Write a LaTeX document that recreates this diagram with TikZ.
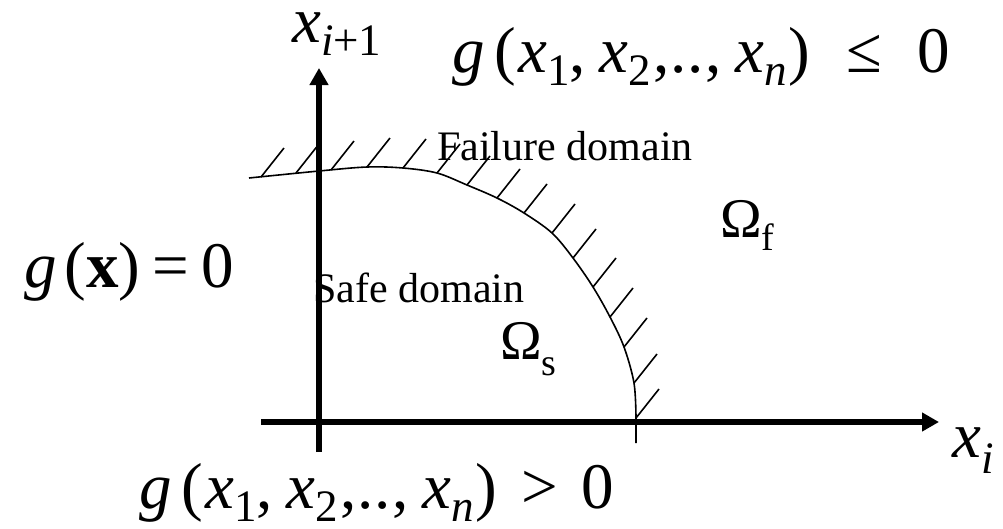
\documentclass[tikz,border=0pt]{standalone}
\usepackage{fontspec}
\setmainfont{Liberation Serif}
\newfontfamily\tms{Liberation Serif}
\usetikzlibrary{arrows.meta}
\newcommand{\mth}{\tms\fontsize{65}{70}\selectfont}
\newcommand{\txt}{\tms\fontsize{42}{46}\selectfont}
\newcommand{\om}{\tms\fontsize{56}{60}\selectfont}
\newcommand{\lsub}[1]{\raisebox{-13pt}{\tms\fontsize{45}{50}\selectfont #1}}
\newcommand{\args}{\textit{g}\hspace{10pt}(\hspace{2pt}\textit{x}\lsub{1},\hspace{14pt}\textit{x}\lsub{2}\hspace{2pt},\hspace{1pt}.\hspace{1pt}.\hspace{1pt},\hspace{14pt}\textit{x}\lsub{\textit{n}}\hspace{2pt})}
\begin{document}
\begin{tikzpicture}[x=1pt,y=-1pt,
  axis/.style={line width=6pt,-{Triangle[length=17pt,width=18pt]}},
  bound/.style={line width=1.6pt},
  hatch/.style={line width=1.6pt},
  lbl/.style={inner sep=0pt,anchor=base west}]
\useasboundingbox (0,0) rectangle (1003,528);
% axes
\coordinate (vb) at (319,452);
\coordinate (vt) at (319,68);
\coordinate (hl) at (261,422);
\coordinate (hr) at (939,422);
\draw[axis] (vb) -- (vt);
\draw[axis] (hl) -- (hr);
% limit state curve
\draw[bound] plot[smooth,tension=0.55] coordinates {(249,178) (319,171) (367,167) (403,168) (437,173) (467,185) (497,198) (524,213) (552,233) (573,258) (593,287) (610,317) (624,347) (634,383) (636,418)} -- (636,443);
% hatches
\foreach \p in {(261,177),(296,173),(331,170),(367,167),(403,168),(437,173),(467,185),(497,198),(524,213),(552,233),(573,258),(593,287),(610,317),(624,347),(634,383),(636,418)}
  \draw[hatch] \p -- ++(23,-29);
% labels
\node[lbl] (xi1) at (292,42) {\mth\textit{x}\lsub{\textit{i}+1}};
\node[lbl] (gle) at (452,72) {\mth\args\hspace{36pt}≤\hspace{36pt}0};
\node[lbl] (gx) at (24,287) {\mth\textit{g}\hspace{8pt}(\textbf{x})\hspace{12pt}=\hspace{12pt}0};
\node[lbl] (fail) at (437,160) {\txt Failure domain};
\node[lbl] (safe) at (313,302) {\txt Safe domain};
\node[lbl] (oms) at (500,359) {\om Ω\raisebox{-16pt}{\tms\fontsize{38}{40}\selectfont s}};
\node[lbl] (omf) at (720,237) {\om Ω\raisebox{-13pt}{\tms\fontsize{38}{40}\selectfont f}};
\node[lbl] (xi) at (952,457) {\mth\textit{x}\raisebox{-16pt}{\tms\fontsize{45}{50}\selectfont\textit{i}}};
\node[lbl] (ggt) at (139,508) {\mth\args\hspace{24pt}>\hspace{24pt}0};
\end{tikzpicture}
\end{document}
